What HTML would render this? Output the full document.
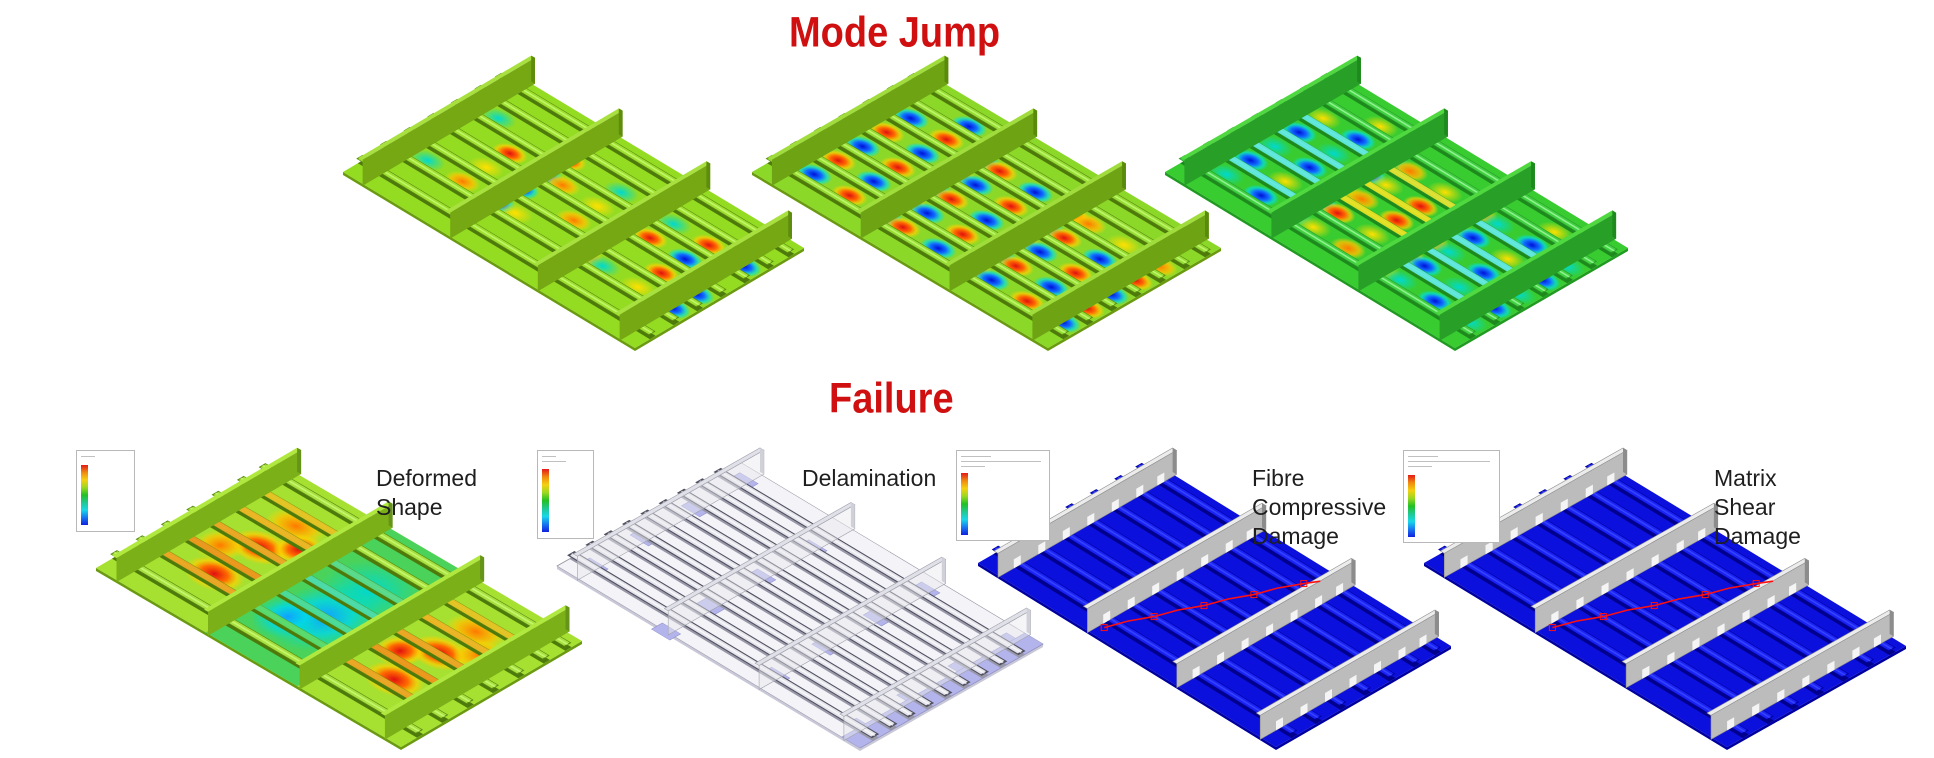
<!DOCTYPE html>
<html><head><meta charset="utf-8">
<style>
html,body{margin:0;padding:0;background:#fff;}
#wrap{position:relative;width:1934px;height:758px;overflow:hidden;background:#fff;font-family:"Liberation Sans",Arial,sans-serif;}
svg{position:absolute;left:0;top:0;}
.title{position:absolute;color:#d01010;font-weight:bold;font-size:38px;line-height:38px;white-space:nowrap;transform:scaleY(1.12);transform-origin:0 0;}
.lbl{position:absolute;color:#1e1e1e;font-size:23px;line-height:29px;white-space:nowrap;}
.leg{position:absolute;border:1px solid #b8b8b8;background:#fff;}
.leg .bar{position:absolute;left:4px;width:7px;background:linear-gradient(#e41a1a,#f08a10,#f5d010,#9cd820,#22c022,#20c890,#18d8e8,#1878f0,#1020e0);}
.leg .ln{position:absolute;height:1px;background:#c0c0c0;}
</style></head><body>
<div id="wrap">
<svg id="s" width="1934" height="758" viewBox="0 0 1934 758" xmlns="http://www.w3.org/2000/svg">
<defs>
<radialGradient id="R"><stop offset="0" stop-color="#e01010"/><stop offset="0.45" stop-color="#ff6a00"/><stop offset="0.75" stop-color="#ffd000" stop-opacity="0.7"/><stop offset="1" stop-color="#ffd000" stop-opacity="0"/></radialGradient>
<radialGradient id="B"><stop offset="0" stop-color="#0010d8"/><stop offset="0.45" stop-color="#1070ff"/><stop offset="0.75" stop-color="#00e0e0" stop-opacity="0.7"/><stop offset="1" stop-color="#00e0e0" stop-opacity="0"/></radialGradient>
<radialGradient id="O"><stop offset="0" stop-color="#ff7800"/><stop offset="0.6" stop-color="#ffc000" stop-opacity="0.8"/><stop offset="1" stop-color="#ffe000" stop-opacity="0"/></radialGradient>
<radialGradient id="Y"><stop offset="0" stop-color="#ffe000"/><stop offset="1" stop-color="#ffe000" stop-opacity="0"/></radialGradient>
<radialGradient id="C"><stop offset="0" stop-color="#00d8d0"/><stop offset="1" stop-color="#00e0c0" stop-opacity="0"/></radialGradient>
<radialGradient id="CB"><stop offset="0" stop-color="#10a0ff"/><stop offset="0.5" stop-color="#00d8e8" stop-opacity="0.8"/><stop offset="1" stop-color="#00e0c0" stop-opacity="0"/></radialGradient>
</defs>
</svg>

<div class="title" style="left:789px;top:12px;">Mode Jump</div>
<div class="title" style="left:829px;top:378px;">Failure</div>

<div class="lbl" style="left:376px;top:464px;">Deformed<br>Shape</div>
<div class="lbl" style="left:802px;top:464px;">Delamination</div>
<div class="lbl" style="left:1252px;top:464px;">Fibre<br>Compressive<br>Damage</div>
<div class="lbl" style="left:1714px;top:464px;">Matrix<br>Shear<br>Damage</div>

<div class="leg" style="left:76px;top:450px;width:57px;height:80px;"><div class="ln" style="left:4px;top:5px;width:14px"></div><div class="bar" style="top:14px;height:60px"></div></div>
<div class="leg" style="left:537px;top:450px;width:55px;height:87px;"><div class="ln" style="left:4px;top:5px;width:14px"></div><div class="ln" style="left:4px;top:10px;width:24px"></div><div class="bar" style="top:18px;height:63px"></div></div>
<div class="leg" style="left:956px;top:450px;width:92px;height:89px;"><div class="ln" style="left:4px;top:5px;width:30px"></div><div class="ln" style="left:4px;top:10px;width:80px"></div><div class="ln" style="left:4px;top:15px;width:24px"></div><div class="bar" style="top:22px;height:62px"></div></div>
<div class="leg" style="left:1403px;top:450px;width:95px;height:91px;"><div class="ln" style="left:4px;top:5px;width:30px"></div><div class="ln" style="left:4px;top:10px;width:82px"></div><div class="ln" style="left:4px;top:15px;width:24px"></div><div class="bar" style="top:24px;height:62px"></div></div>
</div>

<script>
var NS="http://www.w3.org/2000/svg";
var svg=document.getElementById('s');
function el(t,a,p){var e=document.createElementNS(NS,t);for(var k in a)e.setAttribute(k,a[k]);(p||svg).appendChild(e);return e;}
function pts(a){return a.map(function(p){return p[0].toFixed(1)+','+p[1].toFixed(1)}).join(' ');}
function panel(A,B,D,c){
  var du=[(D[0]-A[0])/100,(D[1]-A[1])/100],dv=[(B[0]-A[0])/100,(B[1]-A[1])/100];
  function P(u,v,h){return [A[0]+du[0]*u+dv[0]*v, A[1]+du[1]*u+dv[1]*v-(h||0)];}
  var mat='matrix('+du[0]+' '+du[1]+' '+dv[0]+' '+dv[1]+' '+A[0]+' '+A[1]+')';
  el('polygon',{points:pts([P(0,0),P(100,0),P(100,0,-3),P(0,0,-3)]),fill:c.edge});
  el('polygon',{points:pts([P(100,0),P(100,100),P(100,100,-3),P(100,0,-3)]),fill:c.edge});
  var g=el('g',{transform:mat});
  el('rect',{x:0,y:0,width:100,height:100,fill:c.plate,stroke:c.plateStroke||'none','stroke-width':0.3},g);
  (c.bays||[]).forEach(function(b){el('rect',{x:b[0],y:0,width:b[1]-b[0],height:100,fill:b[2],opacity:b[3]||1},g);});
  (c.spots||[]).forEach(function(s){el('ellipse',{cx:s[0],cy:s[1],rx:s[2],ry:s[3],fill:'url(#'+s[4]+')'},g);});
  (c.patches||[]).forEach(function(s){el('rect',{x:s[0],y:s[1],width:s[2],height:s[3],fill:'#b4b4ec',stroke:'#9090c8','stroke-width':0.2},g);});
  c.str.forEach(function(v){el('rect',{x:0,y:v-1.2,width:100,height:3.4,fill:c.strDark},g);});
  var g2=el('g',{transform:'translate(0,-'+c.sh+') '+mat});
  c.str.forEach(function(v,i){
    el('rect',{x:0,y:v-1.7,width:100,height:3.4,fill:c.strCol,stroke:c.strLine,'stroke-width':c.strW||0.35},g2);
    el('rect',{x:0,y:v-0.4,width:100,height:0.9,fill:c.strHi,opacity:0.7},g2);
  });
  (c.strOver||[]).forEach(function(o){el('rect',{x:o[0],y:o[1]-1.7,width:o[2],height:3.4,fill:o[3],opacity:o[4]||0.9},g2);});
  c.walls.forEach(function(f){
    var t=1.3,h=c.wh;
    el('polygon',{points:pts([P(f,-1,h),P(f,101,h),P(f+t,101,h),P(f+t,-1,h)]),fill:c.wTop,stroke:c.wLine||'none','stroke-width':0.6});
    el('polygon',{points:pts([P(f+t,-1),P(f+t,101),P(f+t,101,h),P(f+t,-1,h)]),fill:c.wFace,stroke:c.wLine||'none','stroke-width':0.6,'fill-opacity':c.wOp||1});
    el('polygon',{points:pts([P(f,101),P(f+t,101),P(f+t,101,h),P(f,101,h)]),fill:c.wSide||c.wFace});
    if(c.notch){c.str.forEach(function(v){
      el('polygon',{points:pts([P(f+t,v-2),P(f+t,v+2),P(f+t,v+2,c.sh+4),P(f+t,v-2,c.sh+4)]),fill:c.notch});
    });}
  });
  if(c.dmg){el('polyline',{points:pts(c.dmg.map(function(p){return P(p[0],p[1],c.sh)})),fill:'none',stroke:'#ff1010','stroke-width':1.6});
    c.dmg.forEach(function(p,i){if(i%2==0){var q=P(p[0],p[1],c.sh);el('rect',{x:q[0]-3,y:q[1]-3,width:6,height:6,fill:'none',stroke:'#ff1010','stroke-width':1});}});}
}
var WALLS=[6,36,66,94];
var STR=[10,24,38,52,66,80,92];
function spotsGrid(pattern,rx,ry){
  var out=[],bays=[[6,36],[36,66],[66,94]];
  var gaps=[17,31,45,59,73,86];
  pattern.forEach(function(rows,bi){
    rows.forEach(function(row,gi){
      for(var k=0;k<row.length;k++){var ch=row[k];if(ch=='.')continue;
        var u=bays[bi][0]+5+k*(24/(row.length-1||1));
        out.push([u,gaps[gi],rx,ry,ch]);}
    });
  });
  return out;
}
var green={edge:'#6a9a10',strDark:'#4e7a0c',strLine:'#5a8a10',strHi:'#d0ff80',sh:5,wh:26,walls:WALLS,str:STR};
function mk(base,extra){var o={};for(var k in base)o[k]=base[k];for(var k2 in extra)o[k2]=extra[k2];return o;}

panel([343,172],[512,72],[635,348],mk(green,{plate:'#94dc22',strCol:'#9ee030',wTop:'#a8e040',wFace:'#76a814',wSide:'#5e8c0c',
 spots:spotsGrid([
  ['...','COB','.YB','.RB','C.R','...'],
  ['...','Y.O','.O.','OY.','.C.','...'],
  ['...','CYB','.RB','RB.','CRB','...']],5,6)}));
panel([752,172],[925,72],[1048,348],mk(green,{plate:'#8cd828',strCol:'#96de36',wTop:'#a0dc3c',wFace:'#6ea414',wSide:'#5a8a0c',
 spots:spotsGrid([
  ['BRB','RBR','BRB','RBR','BRB','.B.'],
  ['RBR','BRB','RBR','BRB','RBR','...'],
  ['BRB','RBR','BRB','RBR','OYO','...']],5,6)}));
panel([1165,172],[1338,72],[1455,348],mk(green,{plate:'#38cc30',edge:'#209a20',strCol:'#40d040',strDark:'#1e8a1e',strLine:'#2a9a2a',strHi:'#b0ffb0',wTop:'#50d840',wFace:'#28a028',wSide:'#1e8a1e',
 spots:spotsGrid([
  ['CBC','BYB','CBY','BCB','YBC','.Y.'],
  ['YOY','RYR','ORO','YRY','OYO','...'],
  ['CBC','BCB','CBC','BYB','CBC','.Y.']],5,6),
 strOver:[[6,24,30,'#60e8e8'],[6,38,30,'#60e8e8'],[6,52,30,'#60e8e8'],[6,66,30,'#60e8e8'],[36,38,30,'#f0e020'],[36,52,30,'#f0e020'],[36,66,30,'#e8e030'],[66,24,28,'#60e8e8'],[66,38,28,'#60e8e8'],[66,52,28,'#60e8e8'],[66,66,28,'#60e8e8']]}));

panel([96,568],[277,462],[401,747],mk(green,{plate:'#a6e030',strCol:'#a8e040',wTop:'#b0e840',wFace:'#7cb018',wSide:'#66941a',wh:24,
 bays:[[36,66,'#40d060',0.9]],
 spots:[[21,30,8,10,'R'],[21,55,8,10,'R'],[21,75,8,10,'O'],[14,45,6,10,'O'],[28,65,6,10,'R'],
        [51,40,12,25,'CB'],[51,65,12,20,'C'],[45,30,8,15,'CB'],
        [80,30,8,10,'R'],[80,55,8,10,'R'],[80,75,8,10,'O'],[73,45,6,10,'R'],[87,65,6,10,'O']],
 strOver:[[6,24,30,'#f0a020'],[6,38,30,'#f09018'],[6,52,30,'#f0a020'],[6,66,30,'#f0b020'],[6,80,30,'#e8c020'],
          [36,24,30,'#50d870'],[36,38,30,'#40d8a0'],[36,52,30,'#40d8b0'],[36,66,30,'#50d890'],
          [66,24,28,'#f0a020'],[66,38,28,'#f09018'],[66,52,28,'#f0a020'],[66,66,28,'#f0b020'],[66,80,28,'#e8c020']]}));

var patches=[];
[6,36,66,94].forEach(function(f){[0,10,24,38,52,66,80,92].forEach(function(v,i){if((i+Math.round(f/10))%2==0)patches.push([f-3,v-3,6,6]);});});
patches.push([94,0,6,100]);
panel([557,566],[740,462],[860,748],{plate:'#f4f4f8',plateStroke:'#9a9aa8',edge:'#c8c8d8',strDark:'#9898a8',strCol:'#e4e4ec',strLine:'#505060',strW:0.6,strHi:'#ffffff',sh:4,wh:24,walls:WALLS,str:[8,18,28,38,48,58,68,78,88],
 patches:patches,wTop:'#e0e0e8',wFace:'#e8e8ee',wOp:0.45,wSide:'#d0d0d8',wLine:'#a0a0ac'});

var blue={plate:'#0c10dc',edge:'#0000a0',strDark:'#00008c',strCol:'#1a22f4',strLine:'#0000a0',strHi:'#4050ff',sh:5,wh:24,walls:WALLS,str:STR,
 wTop:'#ececec',wFace:'#bcbcbc',wSide:'#8c8c8c',wLine:'#909090',notch:'#f4f4f4'};
panel([978,563],[1153,462],[1276,747],mk(blue,{dmg:[[40,4],[42,14],[45,24],[47,34],[50,44],[52,54],[55,64],[57,74],[60,84],[62,90]]}));
panel([1424,563],[1603,462],[1727,747],mk(blue,{dmg:[[40,4],[42,14],[45,24],[47,34],[50,44],[52,54],[55,64],[57,74],[60,84],[62,90]]}));
</script>
</body></html>
